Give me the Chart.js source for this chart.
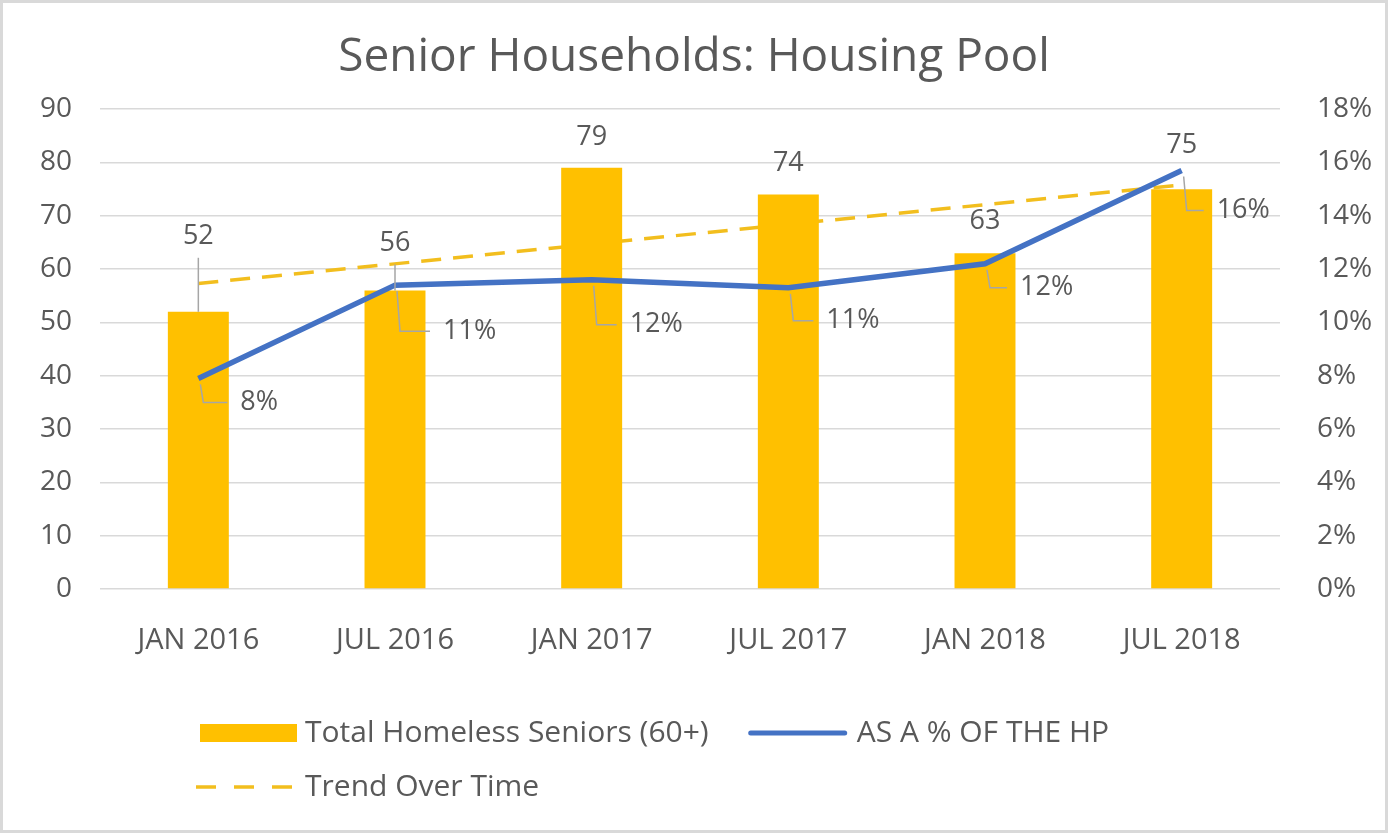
<!DOCTYPE html>
<html>
<head>
<meta charset="utf-8">
<title>Senior Households: Housing Pool</title>
<script src="https://cdn.jsdelivr.net/npm/chart.js@4.4.1/dist/chart.umd.min.js"></script>
<style>
    html, body { margin: 0; padding: 0; background: #fff; }
    #wrap { width: 1388px; height: 833px; }
</style>
</head>
<body>
<div id="wrap"><canvas id="chart" width="1388" height="833"></canvas></div>
<script>
const categories = ['JAN 2016', 'JUL 2016', 'JAN 2017', 'JUL 2017', 'JAN 2018', 'JUL 2018'];
const seniors = [52, 56, 79, 74, 63, 75];
const pctOfHP = [7.9, 11.4, 11.6, 11.3, 12.2, 15.7];
// trend line read at its two ends only, drawn straight across the gap
const trend = [57.3, null, null, null, null, 75.8];

// label placement (px), tuned to the picture
const barLabelDy = [-75, -47, -31, -31, -32, -44];
const barLeader = [true, true, false, false, false, false];
const pctLabelDx = [42, 48, 38, 38, 35, 35];
const pctLabelDy = [24, 46, 45, 33, 24, 40];

const TEXT = '#595959';
const GOLD = '#FFC000';
const BLUE = '#4472C4';
const FONT = "'Open Sans', sans-serif";

const frame = {
    id: 'frame',
    beforeDraw(chart) {
        const ctx = chart.ctx;
        ctx.save();
        ctx.fillStyle = '#fff';
        ctx.fillRect(0, 0, chart.width, chart.height);
        ctx.strokeStyle = '#d9d9d9';
        ctx.lineWidth = 3;
        ctx.strokeRect(1.5, 1.5, chart.width - 3, chart.height - 3);
        ctx.restore();
    }
};

const valueLabels = {
    id: 'valueLabels',
    afterDatasetsDraw(chart) {
        const ctx = chart.ctx;
        ctx.save();
        ctx.font = `27px ${FONT}`;
        ctx.fillStyle = TEXT;
        ctx.strokeStyle = '#a6a6a6';
        ctx.lineWidth = 1.5;

        const bars = chart.getDatasetMeta(1).data;
        ctx.textAlign = 'center';
        ctx.textBaseline = 'middle';
        bars.forEach((bar, i) => {
            const ly = bar.y + barLabelDy[i];
            if (barLeader[i]) {
                ctx.beginPath();
                ctx.moveTo(bar.x, ly + 21);
                ctx.lineTo(bar.x, bar.y);
                ctx.stroke();
            }
            ctx.fillText(String(seniors[i]), bar.x, ly);
        });

        const pts = chart.getDatasetMeta(0).data;
        ctx.textAlign = 'left';
        pts.forEach((p, i) => {
            const lx = p.x + pctLabelDx[i];
            const ly = p.y + pctLabelDy[i];
            ctx.beginPath();
            ctx.moveTo(p.x + 2, p.y + 6);
            ctx.lineTo(p.x + 5, ly);
            ctx.lineTo(lx - 13, ly);
            ctx.stroke();
            ctx.fillText(Math.round(pctOfHP[i]) + '%', lx, ly);
        });
        ctx.restore();
    }
};

const bottomLegend = {
    id: 'bottomLegend',
    afterDraw(chart) {
        const ctx = chart.ctx;
        const ds = chart.data.datasets;
        ctx.save();
        ctx.font = `30px ${FONT}`;
        ctx.fillStyle = TEXT;
        ctx.textAlign = 'left';
        ctx.textBaseline = 'middle';

        let x = 200, y = 733;
        // bars
        ctx.fillStyle = ds[1].backgroundColor;
        ctx.fillRect(x, y - 9, 97, 18);
        ctx.fillStyle = TEXT;
        ctx.fillText(ds[1].label, x + 105, y);
        x = x + 105 + ctx.measureText(ds[1].label).width + 40;
        // line
        ctx.strokeStyle = ds[0].borderColor;
        ctx.lineWidth = 5;
        ctx.lineCap = 'round';
        ctx.beginPath();
        ctx.moveTo(x + 2, y);
        ctx.lineTo(x + 96, y);
        ctx.stroke();
        ctx.fillText(ds[0].label, x + 108, y);

        // trend
        x = 200; y = 787;
        ctx.strokeStyle = ds[2].borderColor;
        ctx.lineWidth = 3.5;
        ctx.lineCap = 'butt';
        ctx.setLineDash([20, 18]);
        ctx.beginPath();
        ctx.moveTo(x - 4, y);
        ctx.lineTo(x + 97, y);
        ctx.stroke();
        ctx.setLineDash([]);
        ctx.fillText(ds[2].label, x + 105, y);
        ctx.restore();
    }
};

new Chart(document.getElementById('chart'), {
    type: 'bar',
    data: {
        labels: categories,
        datasets: [{
            type: 'line',
            label: 'AS A % OF THE HP',
            data: pctOfHP,
            yAxisID: 'y1',
            borderColor: BLUE,
            borderWidth: 5.5,
            pointRadius: 0,
            tension: 0,
            order: 0
        }, {
            type: 'bar',
            label: 'Total Homeless Seniors (60+)',
            data: seniors,
            yAxisID: 'y',
            backgroundColor: GOLD,
            barPercentage: 0.31,
            categoryPercentage: 1,
            order: 1
        }, {
            type: 'line',
            label: 'Trend Over Time',
            data: trend,
            yAxisID: 'y',
            spanGaps: true,
            borderColor: '#F2BE1E',
            borderWidth: 3.5,
            borderDash: [20, 12],
            pointRadius: 0,
            order: 2
        }]
    },
    options: {
        responsive: false,
        animation: false,
        layout: { padding: { top: 0, left: 0, right: 0, bottom: 164 } },
        plugins: {
            legend: { display: false },
            tooltip: { enabled: false },
            title: {
                display: true,
                text: 'Senior Households: Housing Pool',
                color: TEXT,
                font: { family: FONT, size: 46, weight: 'normal', lineHeight: 1.2 },
                padding: { top: 30, bottom: 24 }
            }
        },
        scales: {
            x: {
                grid: { display: false },
                border: { display: false },
                ticks: { color: TEXT, font: { family: FONT, size: 29 }, padding: 26, maxRotation: 0 },
                afterFit(s) { s.height = 80; }
            },
            y: {
                position: 'left',
                min: 0, max: 90,
                ticks: { stepSize: 10, color: TEXT, font: { family: FONT, size: 28 }, padding: 28 },
                grid: { color: '#d9d9d9', lineWidth: 1.5, drawTicks: false },
                border: { display: false },
                afterFit(s) { s.width = 100; }
            },
            y1: {
                position: 'right',
                min: 0, max: 18,
                ticks: { stepSize: 2, color: TEXT, font: { family: FONT, size: 28 }, padding: 37,
                    callback: v => v + '%' },
                grid: { drawOnChartArea: false, drawTicks: false },
                border: { display: false },
                afterFit(s) { s.width = 108; }
            }
        }
    },
    plugins: [frame, valueLabels, bottomLegend]
});
</script>
</body>
</html>
